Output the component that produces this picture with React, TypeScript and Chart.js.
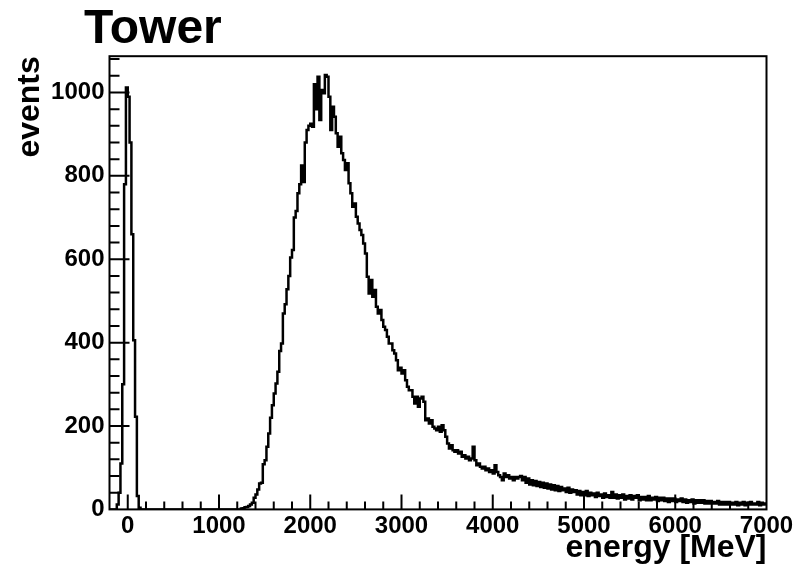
import React, { useEffect, useRef } from 'react';
import { Chart, registerables } from 'chart.js';

Chart.register(...registerables);

// ---- text ----
const TITLE = 'Tower';
const X_LABEL = 'energy [MeV]';
const Y_LABEL = 'events';

// ---- axes ----
const X_MIN = -200;
const X_MAX = 7000;
const Y_MIN = 0;
const Y_MAX = 1087;
const xTickValues = [0, 1000, 2000, 3000, 4000, 5000, 6000, 7000];
const yTickValues = [0, 200, 400, 600, 800, 1000];
const X_MAJOR = 1000;
const X_MINOR = 200;
const Y_MAJOR = 200;
const Y_MINOR = 40;

// ---- histogram (20 MeV bins) ----
const BIN_WIDTH = 20;

// pedestal, bins starting at -200 MeV
const pedestalStart = -200;
const pedestalCounts = [0, 0, 0, 0, 12, 40, 110, 300, 780, 1012, 990, 880, 660, 406, 222, 32, 4, 0, 0, 0];

// rising edge, bins starting at 1200 MeV
const riseStart = 1200;
const riseCounts = [
  0, 0, 2, 3, 5, 6, 8, 12, 16, 28,
  36, 48, 62, 64, 108, 118, 150, 182, 220, 250,
  278, 302, 330, 380, 398, 470, 492, 528, 560, 604,
  622, 700, 716, 758, 780, 825, 785, 880, 910, 920,
];

// peak, bins starting at 2000 MeV
const peakStart = 2000;
const peakCounts = [
  925, 918, 1020, 960, 1038, 934, 1006, 998, 1042, 1038,
  990, 910, 966, 942, 902, 870, 894, 854, 838, 814,
  830, 782, 758, 726, 734, 702, 686, 670, 658, 638,
  614, 558, 518, 550, 510, 526, 486, 470, 478, 454,
  438, 430, 414, 398, 398, 382, 374, 358, 334, 340,
];

// falling edge, bins starting at 3000 MeV
const fallStart = 3000;
const fallCounts = [
  326, 334, 310, 294, 286, 286, 270, 254, 270, 246,
  266, 270, 258, 214, 218, 206, 214, 198, 194, 190,
  198, 186, 202, 190, 174, 158, 146, 154, 142, 138,
  142, 134, 138, 126, 130, 122, 126, 118, 122, 150,
  118, 106, 110, 102, 98, 102, 94, 98, 90, 94,
  86, 106, 90, 82, 78, 70, 86, 78, 82, 74,
  78, 70, 78, 74, 78,
];

// tail, bins starting at 4300 MeV
const tailStart = 4300;
const tailCounts = [
  80, 70, 78, 64, 74, 60, 70, 58, 68, 56,
  66, 54, 64, 52, 62, 50, 60, 48, 58, 46,
  56, 44, 54, 46, 50, 42, 52, 40, 48, 42,
  46, 36, 44, 34, 42, 34, 44, 32, 40, 34,
  38, 30, 40, 32, 36, 28, 38, 30, 34, 28,
  42, 28, 36, 26, 34, 28, 36, 24, 32, 26,
  34, 24, 32, 28, 34, 22, 30, 24, 30, 22,
  32, 22, 28, 24, 30, 20, 28, 22, 28, 20,
  26, 18, 26, 20, 26, 18, 24, 20, 26, 18,
  24, 16, 22, 18, 24, 14, 22, 16, 22, 16,
  22, 14, 20, 14, 20, 14, 18, 14, 20, 12,
  18, 12, 18, 12, 18, 12, 16, 12, 18, 10,
  16, 12, 18, 10, 16, 12, 18, 12, 14, 12,
  18, 10, 16, 12, 14,
];

const segments = [
  { start: pedestalStart, counts: pedestalCounts },
  { start: riseStart, counts: riseCounts },
  { start: peakStart, counts: peakCounts },
  { start: fallStart, counts: fallCounts },
  { start: tailStart, counts: tailCounts },
];

const FONT = '"Liberation Sans", Arial, Helvetica, sans-serif';

function buildPoints() {
  const pts: { x: number; y: number }[] = [];
  for (const seg of segments) {
    seg.counts.forEach((c, i) => pts.push({ x: seg.start + i * BIN_WIDTH, y: c }));
  }
  pts.push({ x: X_MAX, y: pts[pts.length - 1].y });
  return pts;
}

const rootFramePlugin = {
  id: 'rootFrame',
  afterDatasetsDraw(chart: any) {
    const { ctx, chartArea } = chart;
    const { left, right, top, bottom } = chartArea;
    const xs = chart.scales.x;
    const ys = chart.scales.y;
    ctx.save();
    ctx.strokeStyle = '#000';
    ctx.lineWidth = 2;
    ctx.beginPath();
    const firstX = Math.ceil(X_MIN / X_MINOR) * X_MINOR;
    for (let v = firstX; v <= X_MAX; v += X_MINOR) {
      if (v === X_MIN || v === X_MAX) continue;
      const px = xs.getPixelForValue(v);
      const len = v % X_MAJOR === 0 ? 15 : 8;
      ctx.moveTo(px, bottom);
      ctx.lineTo(px, bottom - len);
    }
    for (let v = Y_MIN + Y_MINOR; v < Y_MAX; v += Y_MINOR) {
      const py = ys.getPixelForValue(v);
      const len = v % Y_MAJOR === 0 ? 20 : 10;
      ctx.moveTo(left, py);
      ctx.lineTo(left + len, py);
    }
    ctx.stroke();
    ctx.strokeRect(left, top, right - left, bottom - top);
    ctx.restore();
  },
  afterDraw(chart: any) {
    const { ctx } = chart;
    ctx.save();
    ctx.fillStyle = '#000';
    ctx.font = `bold 48px ${FONT}`;
    ctx.textBaseline = 'alphabetic';
    ctx.textAlign = 'left';
    ctx.fillText(TITLE, 84, 43);
    ctx.restore();
  },
};

export default function App() {
  const canvasRef = useRef<HTMLCanvasElement | null>(null);

  useEffect(() => {
    const canvas = canvasRef.current;
    if (!canvas) return;
    const tickFont = { family: FONT, size: 24, weight: 'bold' };
    const titleFont = { family: FONT, size: 32, weight: 'bold' };
    const chart = new Chart(canvas, {
      type: 'line',
      data: {
        datasets: [
          {
            label: TITLE,
            data: buildPoints(),
            borderColor: '#000',
            borderWidth: 2.5,
            pointRadius: 0,
            stepped: true,
            fill: false,
            tension: 0,
          },
        ],
      },
      options: {
        responsive: false,
        animation: false,
        devicePixelRatio: 1,
        layout: { padding: { top: 56.2, right: 34.5, bottom: 0, left: 0 } },
        plugins: {
          legend: { display: false },
          tooltip: { enabled: false },
          title: { display: false },
        },
        scales: {
          x: {
            type: 'linear',
            min: X_MIN,
            max: X_MAX,
            grid: { display: false, drawTicks: false },
            border: { display: false },
            afterBuildTicks: (s: any) => {
              s.ticks = xTickValues.map((v) => ({ value: v }));
            },
            ticks: {
              autoSkip: false,
              maxRotation: 0,
              minRotation: 0,
              padding: 3,
              color: '#000',
              font: tickFont,
              callback: (v: any) => String(v),
            },
            title: {
              display: true,
              text: X_LABEL,
              align: 'end',
              color: '#000',
              font: titleFont,
              padding: { top: 0, bottom: 1 },
            },
            afterFit: (s: any) => {
              s.height = 58.6;
            },
          },
          y: {
            type: 'linear',
            min: Y_MIN,
            max: Y_MAX,
            grid: { display: false, drawTicks: false },
            border: { display: false },
            afterBuildTicks: (s: any) => {
              s.ticks = yTickValues.map((v) => ({ value: v }));
            },
            ticks: {
              autoSkip: false,
              padding: 5,
              color: '#000',
              font: tickFont,
              callback: (v: any) => String(v),
            },
            title: {
              display: true,
              text: Y_LABEL,
              align: 'end',
              color: '#000',
              font: titleFont,
              padding: { top: 11, bottom: 0 },
            },
            afterFit: (s: any) => {
              s.width = 109.5;
            },
          },
        },
      } as any,
      plugins: [rootFramePlugin],
    });
    return () => chart.destroy();
  }, []);

  return (
    <div style={{ position: 'absolute', left: 0, top: 0, width: 801, height: 568, background: '#fff' }}>
      <canvas ref={canvasRef} width={801} height={568} style={{ display: 'block' }} />
    </div>
  );
}
